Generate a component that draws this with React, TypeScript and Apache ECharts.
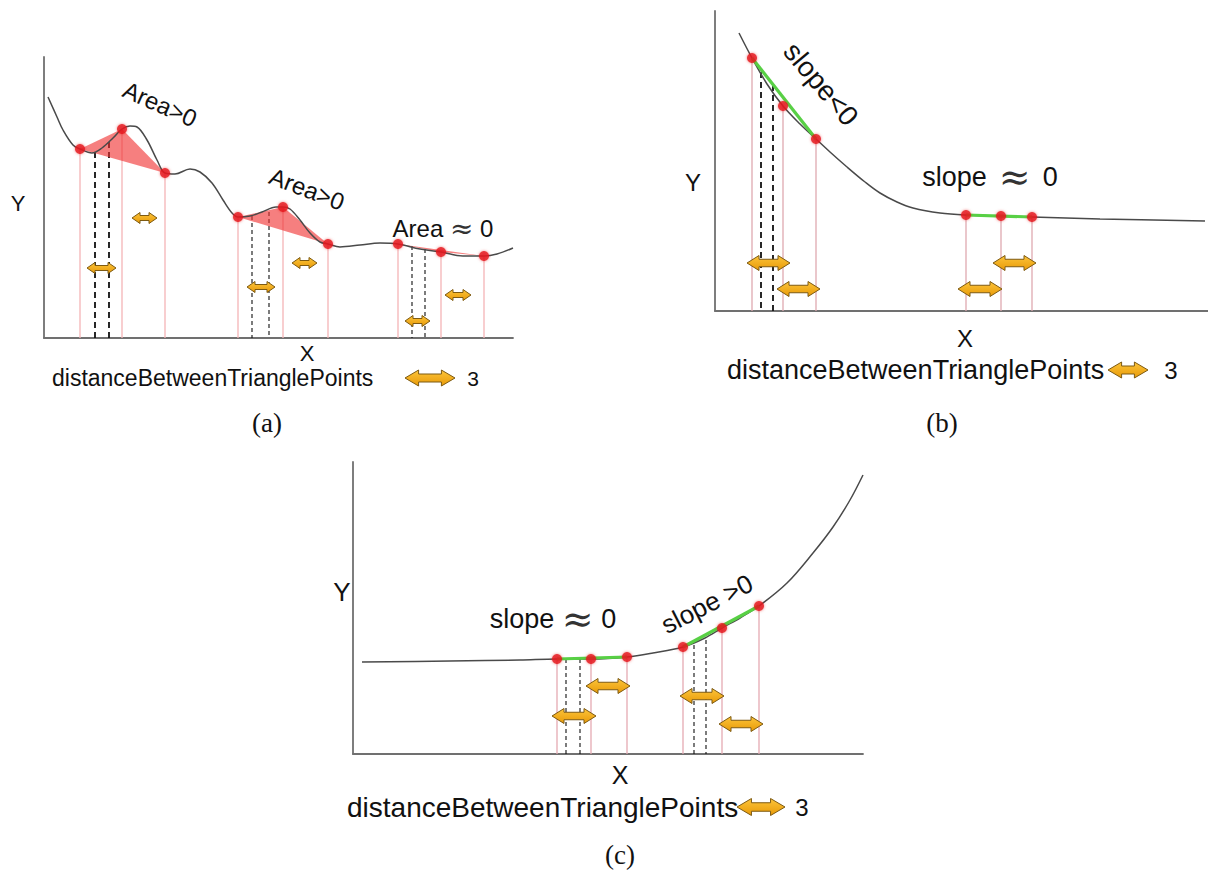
import React, { useEffect, useRef } from "react";
import * as echarts from "echarts";

// ---------- Panel (a) ----------
const curveA = [[0.4,24.1],[1.3,22.1],[1.9,20.8],[2.9,19.3],[3.6,18.9],[4.8,18.5],[5.8,19.0],[6.9,20.0],[7.8,20.9],[8.6,21.2],[9.3,21.1],[10.3,19.8],[11.3,17.8],[12.1,16.5],[13.1,16.4],[14.6,16.9],[15.6,16.6],[16.8,15.5],[17.9,13.8],[18.8,12.5],[19.4,12.1],[20.6,12.2],[21.8,12.6],[23.2,13.1],[23.9,13.1],[24.6,12.9],[25.6,11.8],[26.6,10.5],[27.6,9.6],[28.4,9.4],[29.6,9.1],[31.6,9.3],[33.6,9.5],[35.4,9.4],[37.6,8.9],[39.7,8.6],[41.9,8.2],[44.0,8.2],[45.3,8.4],[46.9,9.0]];
const redA = [[3.6,18.9],[7.8,20.9],[12.1,16.5],[19.4,12.1],[23.9,13.1],[28.4,9.4],[35.4,9.4],[39.7,8.6],[44.0,8.2]];
const dashA = [[5.1,18.6],[6.5,19.6],[20.8,12.2],[22.5,12.6],[36.8,9.2],[38.1,8.9]];
const arrowsA = [[4.3,7.2,7.0],[8.8,11.3,12.0],[20.3,23.1,5.1],[24.8,27.3,7.5],[36.1,38.6,1.7],[40.1,42.7,4.3]];

// ---------- Panel (b) ----------
const curveB = [[2.4,27.8],[3.7,25.3],[5.2,22.7],[6.8,20.5],[8.5,18.7],[10.1,17.2],[11.5,15.9],[13.2,14.4],[15.0,12.9],[16.5,11.8],[18.2,10.9],[19.8,10.3],[22.5,9.8],[25.1,9.6],[28.6,9.5],[31.7,9.4],[38.5,9.2],[49.0,9.0]];
const redB = [[3.7,25.3],[6.8,20.5],[10.1,17.2],[25.1,9.6],[28.6,9.5],[31.7,9.4]];
const dashB = [[4.6,23.9],[5.8,22.6]];
const arrowsB = [[3.2,7.5,4.8],[6.2,10.5,2.2],[24.3,28.7,2.2],[27.8,32.1,4.8]];

// ---------- Panel (c) ----------
const curveC = [[0.9,9.2],[9.7,9.3],[16.7,9.4],[20.4,9.5],[23.8,9.5],[27.4,9.7],[30.0,10.1],[33.0,10.7],[35.2,11.6],[36.9,12.6],[38.7,13.6],[40.6,14.8],[43.4,17.1],[46.0,20.1],[48.0,22.7],[49.7,25.4],[51.0,27.9]];
const redC = [[20.4,9.5],[23.8,9.5],[27.4,9.7],[33.0,10.7],[36.9,12.6],[40.6,14.8]];
const dashC = [[21.3,9.5],[22.7,9.5],[34.1,10.9],[35.3,11.4]];
const arrowsC = [[19.9,24.3,3.8],[23.3,27.7,6.8],[32.7,37.1,5.8],[36.6,41.0,3.0]];

const legendLabel = "distanceBetweenTrianglePoints";
const legendValue = "3";

const SANS = "'Liberation Sans', Arial, Helvetica, sans-serif";
const SERIF = "'Liberation Serif', 'Times New Roman', serif";
const MATH = "'DejaVu Serif', 'DejaVu Sans', serif";

function arrowPts(x1: number, x2: number, yc: number, H: number, h: number, k: number) {
  return [
    [x1, yc], [x1 + k, yc - H / 2], [x1 + k, yc - h / 2], [x2 - k, yc - h / 2], [x2 - k, yc - H / 2],
    [x2, yc], [x2 - k, yc + H / 2], [x2 - k, yc + h / 2], [x1 + k, yc + h / 2], [x1 + k, yc + H / 2],
  ];
}
function arrowFill() {
  return new echarts.graphic.LinearGradient(0, 0, 0, 1, [
    { offset: 0, color: "#fcc43a" },
    { offset: 1, color: "#e89a08" },
  ]);
}

function groups(pts: number[][]) {
  const out: number[][] = [];
  for (let i = 0; i + 2 < pts.length; i += 3) out.push([...pts[i], ...pts[i + 1], ...pts[i + 2]]);
  return out;
}

function panelSeries(idx: number, curve: number[][], red: number[][], dash: number[][], arrows: number[][], opts: any) {
  const ax = { xAxisIndex: idx, yAxisIndex: idx };
  const s: any[] = [];
  s.push({
    type: "custom", ...ax, z: 1, data: red, encode: { x: 0, y: 1 },
    renderItem: (_p: any, api: any) => {
      const a = api.coord([api.value(0), api.value(1)]);
      const b = api.coord([api.value(0), 0]);
      return { type: "line", shape: { x1: a[0], y1: a[1], x2: b[0], y2: b[1] }, style: { stroke: opts.pink, lineWidth: 1.3 } };
    },
  });
  s.push({
    type: "custom", ...ax, z: 2, data: dash, encode: { x: 0, y: 1 },
    renderItem: (p: any, api: any) => {
      const a = api.coord([api.value(0), api.value(1)]);
      const b = api.coord([api.value(0), 0]);
      const thick = opts.thickDash && p.dataIndex < 2;
      return { type: "line", shape: { x1: a[0], y1: a[1], x2: b[0], y2: b[1] }, style: { stroke: "#111", lineWidth: thick ? 1.8 : 1.1, lineDash: thick ? [6, 4] : [4, 3] } };
    },
  });
  if (opts.triangles) {
    s.push({
      type: "custom", ...ax, z: 2, data: groups(red), encode: { x: 0, y: 1 },
      renderItem: (_p: any, api: any) => {
        const pts = [0, 1, 2].map((i) => api.coord([api.value(2 * i), api.value(2 * i + 1)]));
        return { type: "polygon", shape: { points: pts }, style: { fill: "rgba(240,48,48,0.62)" } };
      },
    });
  }
  if (opts.green) {
    s.push({
      type: "custom", ...ax, z: 4, data: groups(red), encode: { x: 0, y: 1 },
      renderItem: (_p: any, api: any) => {
        const a = api.coord([api.value(0), api.value(1)]);
        const b = api.coord([api.value(4), api.value(5)]);
        return { type: "line", shape: { x1: a[0], y1: a[1], x2: b[0], y2: b[1] }, style: { stroke: "#58d045", lineWidth: 3.2 } };
      },
    });
  }
  s.push({
    type: "line", ...ax, z: 3, data: curve, smooth: 0.35, showSymbol: false,
    lineStyle: { color: "#4a4a4a", width: 1.5 },
  });
  s.push({
    type: "scatter", ...ax, z: 6, data: red, symbolSize: opts.dot,
    itemStyle: { color: "#e5161c", shadowBlur: 3, shadowColor: "rgba(230,20,20,0.6)" },
  });
  const [H, h, k] = opts.arrow;
  s.push({
    type: "custom", ...ax, z: 5, data: arrows, encode: { x: [0, 1], y: 2 },
    renderItem: (_p: any, api: any) => {
      const a = api.coord([api.value(0), api.value(2)]);
      const b = api.coord([api.value(1), api.value(2)]);
      return { type: "polygon", shape: { points: arrowPts(a[0], b[0], a[1], H, h, k) }, style: { fill: arrowFill(), stroke: "#7d5a12", lineWidth: 1 } };
    },
  });
  return s;
}

function txt(x: number, y: number, text: string, size: number, opts: any = {}) {
  return {
    type: "text", x, y, rotation: ((opts.rot || 0) * Math.PI) / 180, z: 10,
    style: {
      text, fontSize: size, fontFamily: opts.font || SANS, fill: "#111", align: opts.align || "center", verticalAlign: "middle",
      rich: opts.rich,
    },
  };
}
function approx(size: number) {
  return { ap: { fontSize: size, fontFamily: MATH, fill: "#333", verticalAlign: "middle" } };
}
function legendArrow(x1: number, x2: number, y: number, H: number) {
  return { type: "polygon", z: 10, shape: { points: arrowPts(x1, x2, y, H, H * 0.5, H * 0.85) }, style: { fill: arrowFill(), stroke: "#7d5a12", lineWidth: 1 } };
}

export default function App() {
  const ref = useRef<HTMLDivElement>(null);
  useEffect(() => {
    if (!ref.current) return;
    const chart = echarts.init(ref.current, undefined, { renderer: "svg" });
    const grids = [
      { left: 44, top: 57, width: 469, height: 281 },
      { left: 715, top: 11, width: 493, height: 300 },
      { left: 353, top: 462, width: 510, height: 292 },
    ];
    const ranges = [[46.9, 28.1], [49.3, 30], [51, 29.2]];
    const axisBase = {
      type: "value", min: 0, axisTick: { show: false }, axisLabel: { show: false }, splitLine: { show: false },
      axisLine: { show: true, onZero: false, lineStyle: { color: "#707070", width: 1.8 } },
    };
    const option: any = {
      animation: false,
      backgroundColor: "#ffffff",
      grid: grids.map((g) => ({ ...g, containLabel: false })),
      xAxis: ranges.map((r, i) => ({ ...axisBase, gridIndex: i, max: r[0] })),
      yAxis: ranges.map((r, i) => ({ ...axisBase, gridIndex: i, max: r[1] })),
      series: [
        ...panelSeries(0, curveA, redA, dashA, arrowsA, { pink: "#f4b4b6", triangles: true, thickDash: true, dot: 10, arrow: [11, 5, 8] }),
        ...panelSeries(1, curveB, redB, dashB, arrowsB, { pink: "#dfa9b0", green: true, thickDash: true, dot: 10, arrow: [15, 7.5, 12] }),
        ...panelSeries(2, curveC, redC, dashC, arrowsC, { pink: "#e5aab2", green: true, dot: 10, arrow: [15, 7.5, 12] }),
      ],
      graphic: [
        // panel (a)
        txt(18, 203, "Y", 22),
        txt(307, 353, "X", 22),
        txt(160, 104, "Area>0", 24, { rot: -24 }),
        txt(307, 189, "Area>0", 24, { rot: -21 }),
        txt(443, 228, "Area {ap|\u2248} 0", 24, { rich: approx(28) }),
        txt(52, 378, legendLabel, 23, { align: "left" }),
        legendArrow(405, 455, 378, 16),
        txt(473, 378, legendValue, 21),
        txt(267, 423, "(a)", 27, { font: SERIF }),
        // panel (b)
        txt(693, 182, "Y", 24),
        txt(965, 338, "X", 24),
        txt(821, 84, "slope<0", 28, { rot: -50 }),
        txt(990, 177, "slope{ap| \u2248 }0", 27, { rich: approx(38) }),
        txt(727, 370, legendLabel, 27, { align: "left" }),
        legendArrow(1108, 1148, 370, 16),
        txt(1171, 370, legendValue, 24),
        txt(942, 423, "(b)", 27, { font: SERIF }),
        // panel (c)
        txt(342, 592, "Y", 26),
        txt(620, 775, "X", 25),
        txt(553, 619, "slope {ap|\u2248} 0", 27, { rich: approx(38) }),
        txt(707, 604, "slope >0", 26, { rot: 27 }),
        txt(347, 807, legendLabel, 28, { align: "left" }),
        legendArrow(737, 785, 807, 17),
        txt(802, 807, legendValue, 24),
        txt(620, 855, "(c)", 27, { font: SERIF }),
      ],
    };
    chart.setOption(option);
    return () => chart.dispose();
  }, []);
  return <div ref={ref} style={{ position: "absolute", left: 0, top: 0, width: 1208, height: 875, background: "#fff" }} />;
}
